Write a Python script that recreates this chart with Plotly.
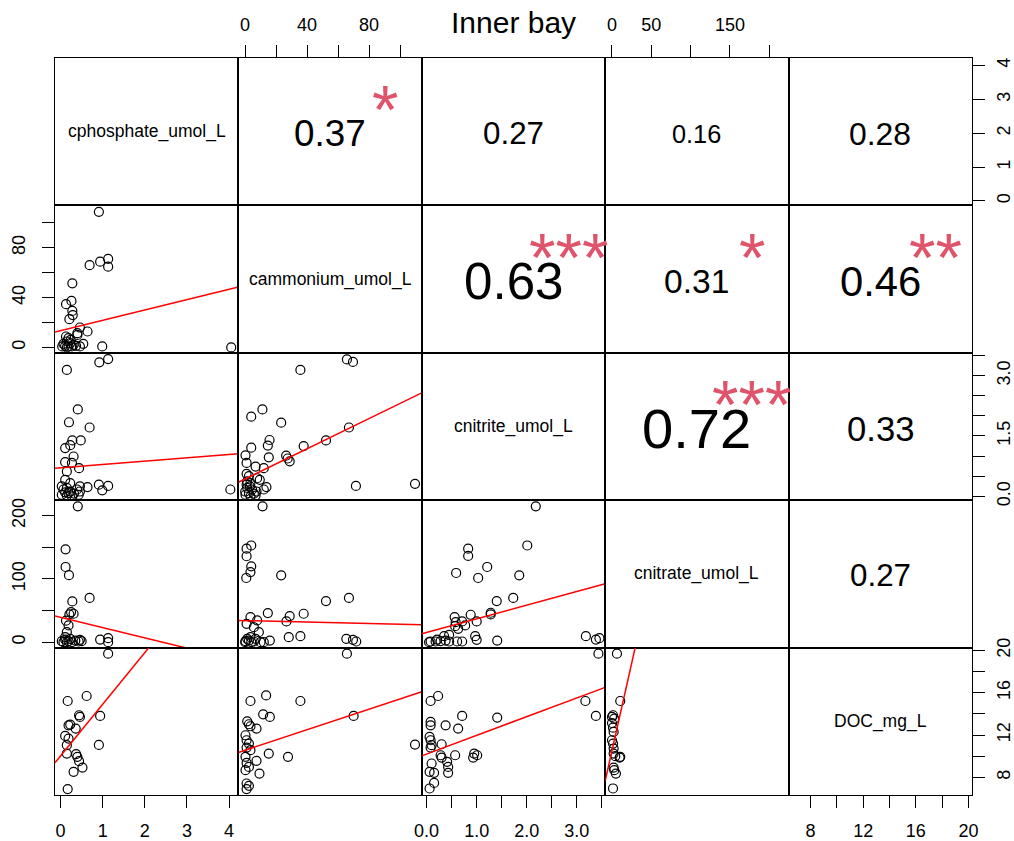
import plotly.graph_objects as go
from plotly.subplots import make_subplots

FONT = "Liberation Sans, Arial, sans-serif"

variables = ["cphosphate_umol_L", "cammonium_umol_L", "cnitrite_umol_L",
             "cnitrate_umol_L", "DOC_mg_L"]
var_min = [0.03, 0.1, 0.04, 0.1, 6.85]
var_max = [4.06, 109.6, 3.43, 216.0, 19.75]

tick_values = [
    [0, 1, 2, 3, 4],
    [0, 20, 40, 60, 80, 100],
    [0, 0.5, 1, 1.5, 2, 2.5, 3, 3.5],
    [0, 50, 100, 150, 200],
    [8, 10, 12, 14, 16, 18, 20],
]
x_tick_labels = [
    ["0", "1", "2", "3", "4"],
    ["0", "", "40", "", "80", ""],
    ["0.0", "", "1.0", "", "2.0", "", "3.0", ""],
    ["0", "50", "", "150", ""],
    ["8", "", "12", "", "16", "", "20"],
]
y_tick_labels = [
    ["0", "1", "2", "3", "4"],
    ["0", "", "40", "", "80", ""],
    ["0.0", "", "", "1.5", "", "", "3.0", ""],
    ["0", "", "100", "", "200"],
    ["8", "", "12", "", "16", "", "20"],
]

# correlations (upper panels)
cor_rows = [1, 1, 1, 1, 2, 2, 2, 3, 3, 4]
cor_cols = [2, 3, 4, 5, 3, 4, 5, 4, 5, 5]
cor_values = [0.37, 0.27, 0.16, 0.28, 0.63, 0.31, 0.46, 0.72, 0.33, 0.27]
cor_stars = ["*", "", "", "", "***", "*", "**", "***", "", ""]

# scatter data (lower panels)
phos_amm_x = [0.91, 0.69, 0.94, 1.13, 1.13, 0.28, 0.26, 0.13, 0.28, 0.29, 0.21, 0.46, 0.40, 0.64, 0.99, 4.05,
              0.07, 0.11, 0.15, 0.19, 0.23, 0.27, 0.31, 0.37, 0.46, 0.54, 0.13, 0.19, 0.24, 0.40, 0.04, 0.15]
phos_amm_y = [108.8, 66, 68.8, 71, 64.8, 51.5, 37.3, 34.7, 29.3, 26, 22.7, 16, 11.5, 12.8, 0.8, 0,
              2.9, 1.3, 4.8, 0.8, 3.5, 0.8, 2.1, 1.3, 0.8, 2.9, 8.8, 7.5, 6.1, 10.1, 0.8, 0]

phos_nitrite_x = [0.15, 0.92, 1.13, 0.41, 0.20, 0.69, 0.28, 0.48, 0.23, 0.11, 0.31, 0.11, 0.27, 0.44, 0.15,
                  0.11, 0.23, 0.03, 0.46, 0.64, 0.91, 1.13, 0.99, 4.03,
                  0.03, 0.11, 0.15, 0.19, 0.23, 0.27, 0.32, 0.43, 0.46, 0.07, 0.15, 0.39]
phos_nitrite_y = [3.14, 3.33, 3.41, 2.16, 1.84, 1.71, 1.39, 1.39, 1.27, 1.20, 0.99, 0.85, 0.83, 0.70, 0.62,
                  0.41, 0.33, 0.25, 0.25, 0.23, 0.29, 0.26, 0.15, 0.17,
                  0.04, 0.10, 0.02, 0.08, 0.12, 0.0, 0.07, 0.04, 0.12, 0.17, 0.21, 0.17]

phos_nitrate_x = [0.41, 0.12, 0.12, 0.20, 0.69, 0.28, 0.25, 0.21, 0.31, 0.13, 0.19, 0.15, 0.11, 0.94, 1.13,
                  1.13, 0.46, 0.03, 0.11, 0.19, 0.27, 0.35, 0.43, 0.50, 0.15, 0.23, 0.07]
phos_nitrate_y = [215, 147, 119, 106, 70, 64.5, 47.6, 44, 45, 34, 26.5, 16, 8, 4.2, 6.3,
                  0, 3.7, 1.6, 4.2, 1.6, 0, 2.6, 1.1, 1.6, 0, 5.3, 0]

phos_doc_x = [0.17, 0.62, 0.44, 0.46, 0.94, 0.19, 0.23, 0.36, 0.11, 0.19, 0.15, 0.91, 0.15, 0.37, 0.40,
              0.44, 0.52, 0.31, 0.17, 1.13]
phos_doc_y = [15.22, 15.69, 13.87, 13.71, 13.81, 12.92, 12.99, 12.61, 11.92, 11.67, 11.04, 11.07, 10.25,
              10.19, 9.94, 9.53, 8.93, 8.52, 6.89, 19.69]

amm_nitrite_x = [65.7, 69.6, 35.7, 11.2, 4.0, 23.3, 67, 15.8, 14.7, 4.0, 37.8, 52.2, 0.3, 15.3, 26.5, 27.5,
                 28.8, 1.0, 6.8, 12.1, 13.8, 71.5, 109.6,
                 0.1, 0.3, 1.4, 2.5, 3.5, 4.6, 5.7, 6.8, 1.0, 3.1, 1.0, 2.5, 1.4, 3.5, 9.5, 7.8, 7.4, 12.1]
amm_nitrite_y = [3.40, 3.34, 3.14, 2.16, 1.98, 1.83, 1.71, 1.40, 1.26, 1.21, 1.25, 1.39, 1.02, 0.97, 1.01,
                 0.94, 0.87, 0.83, 0.74, 0.70, 0.23, 0.26, 0.31,
                 0.12, 0.04, 0.21, 0.08, 0, 0.17, 0.07, 0.02, 0.29, 0.25, 0.56, 0.50, 0.37, 0.33, 0.41, 0.45,
                 0.12, 0.17]

amm_nitrate_x = [11.3, 4.0, 1.0, 1.0, 4.0, 3.5, 0.8, 23.3, 52.2, 67, 3.5, 14.7, 28.8, 26.7, 37.8, 7.8, 28.2,
                 35.7, 65.3, 69.6, 71.7, 16,
                 0.3, 2.5, 5.7, 10, 12.1, 1.0, 5.7, 8.9, 3.5, 1.4, 6.8, 0.1, 4]
amm_nitrate_y = [215, 153, 148, 136, 120, 111, 101.6, 105.8, 65, 70, 39.7, 46, 41.3, 32.8, 45, 34.4, 8,
                 9.5, 5.3, 3.7, 1.1, 2.6,
                 1.6, 2.6, 1.1, 0, 0, 29, 23.8, 15.9, 7.9, 5.3, 5.3, 0, 0]

amm_doc_x = [65.7, 13.6, 3.5, 35.7, 11.7, 16.0, 70.0, 1.4, 2.5, 3.5, 7.4, 0.3, 1.0, 2.5, 1.0, 3.5, 15.3,
             27.7, 7.4, 0.3, 1.0, 2.5, 0.3, 9.3, 1.0, 2.5, 1.0, 109.6]
amm_doc_y = [19.69, 15.75, 15.22, 15.22, 13.96, 13.71, 13.81, 13.30, 13.02, 12.83, 12.61, 11.98, 11.51,
             11.19, 10.82, 10.57, 10.25, 9.94, 9.56, 9.94, 9.37, 8.99, 8.68, 8.36, 7.42, 7.20, 6.89, 11.10]

nitrite_nitrate_x = [2.18, 0.83, 0.83, 2.01, 1.21, 0.59, 1.03, 1.85, 1.40, 1.73, 0.56, 0.88, 1.28, 1.28,
                     1.0, 0.97, 1.0, 1.41, 3.18, 3.38, 3.45,
                     0.08, 0.18, 0.28, 0.38, 0.45, 0.61, 0.71, 0.45, 0.35, 0.58, 0.57, 0.63, 0.77, 0.71,
                     0.05, 0.21]
nitrite_nitrate_y = [215, 148, 136.5, 153, 119, 109.5, 101.6, 105.8, 65, 70, 39.7, 43.4, 46.6, 44,
                     32.8, 9.5, 3.7, 2.6, 9.5, 4.2, 6.3,
                     1.1, 1.1, 1.6, 2.6, 1.1, 1.1, 1.1, 11.6, 9.5, 31.7, 25.4, 21.2, 26.5, 32.8, 0, 4.2]

nitrite_doc_x = [3.43, 0.08, 0.23, 3.17, 0.71, 1.41, 3.38, 0.08, 0.08, 0.38, 0.63, 0.06, 0.08, 0.10, 0.30,
                 0.08, 0.57, 0.95, 1.01, 0.93, 0.28, 0.30, 0.41, 0.43, 0.43, 0.10, 0.06, 0.15, 0.15, 0.06]
nitrite_doc_y = [19.69, 15.22, 15.69, 15.22, 13.81, 13.65, 13.81, 13.24, 12.92, 12.92, 12.61, 11.82,
                 11.51, 11.04, 11.13, 10.82, 10.09, 10.25, 10.09, 9.87, 10.09, 9.87, 9.47, 8.99, 8.43,
                 9.31, 8.52, 8.43, 7.48, 6.95]

nitrate_doc_x = [6.4, 10.6, 1.4, 3.0, 0.1, 1.4, 2.2, 0.1, 1.4, 2.2, 4.3, 9.8, 10.6, 2.2, 5.1, 1.4, 0.1,
                 2.2, 3.0]
nitrate_doc_y = [19.69, 15.22, 13.87, 13.55, 13.14, 12.70, 12.30, 11.51, 11.19, 10.25, 10.00, 9.87,
                 9.94, 8.93, 8.36, 6.95, 13.71, 10.72, 8.68]

# fitted line coefficients (intercept, slope) per lower panel
fit_intercepts = {(2, 1): 13.4, (3, 1): 0.71, (4, 1): 39.2, (5, 1): 10.03,
                  (3, 2): 0.43, (4, 2): 34.1, (5, 2): 10.56,
                  (4, 3): 15.4, (5, 3): 10.2, (5, 4): 10.5}
fit_slopes = {(2, 1): 8.3, (3, 1): 0.083, (4, 1): -16.2, (5, 1): 4.88,
              (3, 2): 0.01878, (4, 2): -0.0586, (5, 2): 0.0486,
              (4, 3): 21.6, (5, 3): 1.77, (5, 4): 0.33}

panels = {
    (2, 1): (phos_amm_x, phos_amm_y),
    (3, 1): (phos_nitrite_x, phos_nitrite_y),
    (4, 1): (phos_nitrate_x, phos_nitrate_y),
    (5, 1): (phos_doc_x, phos_doc_y),
    (3, 2): (amm_nitrite_x, amm_nitrite_y),
    (4, 2): (amm_nitrate_x, amm_nitrate_y),
    (5, 2): (amm_doc_x, amm_doc_y),
    (4, 3): (nitrite_nitrate_x, nitrite_nitrate_y),
    (5, 3): (nitrite_doc_x, nitrite_doc_y),
    (5, 4): (nitrate_doc_x, nitrate_doc_y),
}


def padded(i):
    lo, hi = var_min[i], var_max[i]
    d = hi - lo
    return [lo - 0.04 * d, hi + 0.04 * d]


n = len(variables)
fig = make_subplots(rows=n, cols=n, horizontal_spacing=0, vertical_spacing=0)

for r in range(1, n + 1):
    for c in range(1, n + 1):
        if (r, c) in panels:
            xs, ys = panels[(r, c)]
            fig.add_trace(go.Scatter(
                x=xs, y=ys, mode="markers",
                marker=dict(symbol="circle-open", size=9, color="black",
                            line=dict(width=1.2, color="black")),
                showlegend=False, hoverinfo="skip"), row=r, col=c)
            xr = padded(c - 1)
            a, b = fit_intercepts[(r, c)], fit_slopes[(r, c)]
            fig.add_trace(go.Scatter(
                x=xr, y=[a + b * xr[0], a + b * xr[1]], mode="lines",
                line=dict(color="#FF0000", width=1.5), showlegend=False, hoverinfo="skip"),
                row=r, col=c)
        else:
            # empty placeholder so the panel (text / diagonal) is drawn
            fig.add_trace(go.Scatter(x=[None], y=[None], mode="markers", showlegend=False,
                                     hoverinfo="skip"), row=r, col=c)

tickfont = dict(family=FONT, size=18, color="black")
for r in range(1, n + 1):
    for c in range(1, n + 1):
        xi, yi = c - 1, r - 1
        xkw = dict(range=padded(xi), showgrid=False, zeroline=False, showline=True, mirror=True,
                   linecolor="black", linewidth=1.4, fixedrange=True, automargin=False)
        if (r == n and c % 2 == 1) or (r == 1 and c % 2 == 0):
            xkw.update(side="bottom" if r == n else "top", ticks="outside", ticklen=12, tickwidth=1.3,
                       tickcolor="black", tickvals=tick_values[xi], ticktext=x_tick_labels[xi],
                       showticklabels=True, tickfont=tickfont, ticklabelstandoff=7)
        else:
            xkw.update(ticks="", showticklabels=False)
        fig.update_xaxes(row=r, col=c, **xkw)

        ykw = dict(range=padded(yi), showgrid=False, zeroline=False, showline=True, mirror=True,
                   linecolor="black", linewidth=1.4, fixedrange=True, automargin=False)
        if (c == 1 and r % 2 == 0) or (c == n and r % 2 == 1):
            ykw.update(side="left" if c == 1 else "right", ticks="outside", ticklen=12, tickwidth=1.3,
                       tickcolor="black", tickvals=tick_values[yi], ticktext=y_tick_labels[yi],
                       showticklabels=True, tickfont=tickfont, tickangle=-90,
                       ticklabelstandoff=10 if c == 1 else 3)
        else:
            ykw.update(ticks="", showticklabels=False)
        fig.update_yaxes(row=r, col=c, **ykw)


def dom(r, c):
    idx = (r - 1) * n + c
    s = "" if idx == 1 else str(idx)
    return "x" + s + " domain", "y" + s + " domain"


annotations = []
for i, name in enumerate(variables):
    xr_, yr_ = dom(i + 1, i + 1)
    annotations.append(dict(x=0.5, y=0.5, xref=xr_, yref=yr_, text=name, showarrow=False,
                            xanchor="center", yanchor="middle",
                            font=dict(family=FONT, size=17.5, color="black")))

for r, c, v, s in zip(cor_rows, cor_cols, cor_values, cor_stars):
    xr_, yr_ = dom(r, c)
    annotations.append(dict(x=0.5, y=0.5, xref=xr_, yref=yr_, text=f"{v:.2f}", showarrow=False,
                            xanchor="center", yanchor="middle", yshift=-2,
                            font=dict(family=FONT, size=55 * (abs(v) + 0.3), color="black")))
    if s:
        annotations.append(dict(x=0.8, y=0.8, xref=xr_, yref=yr_, text=s, showarrow=False,
                                xanchor="center", yanchor="middle", yshift=-22,
                                font=dict(family=FONT, size=68, color="#DF536B")))

annotations.append(dict(x=0.5, y=1.0488, xref="paper", yref="paper", text="Inner bay", showarrow=False,
                        xanchor="center", yanchor="middle",
                        font=dict(family=FONT, size=30, color="black")))

fig.update_layout(
    width=1014, height=841,
    margin=dict(l=55, r=42, t=58, b=46),
    paper_bgcolor="white", plot_bgcolor="white",
    annotations=annotations,
    showlegend=False,
)

fig.write_html("out.html", post_script="document.body.style.margin='0';",
               config={"displayModeBar": False})
